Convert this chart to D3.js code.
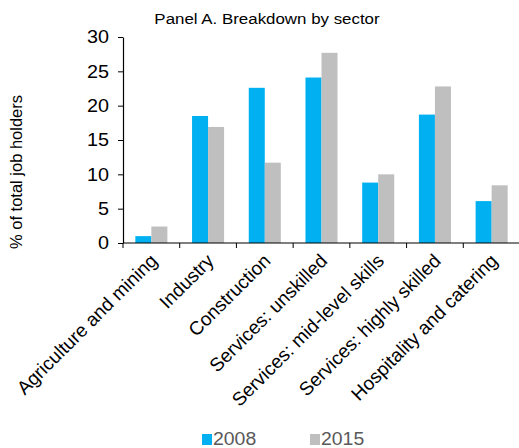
<!DOCTYPE html>
<html>
<head>
<meta charset="utf-8">
<script src="https://cdn.jsdelivr.net/npm/d3@7"></script>
<style>
  body { margin: 0; background: #fff; }
  svg { display: block; font-family: "Liberation Sans", Arial, sans-serif; }
</style>
</head>
<body>
<svg id="chart" width="519" height="448"></svg>
<script>
// Share of job holders by sector, 2008 vs 2015
const categories = [
  "Agriculture and mining",
  "Industry",
  "Construction",
  "Services: unskilled",
  "Services: mid-level skills",
  "Services: highly skilled",
  "Hospitality and catering"
];
const values2008 = [1.0, 18.5, 22.6, 24.1, 8.8, 18.7, 6.1];
const values2015 = [2.4, 16.9, 11.7, 27.7, 10.0, 22.8, 8.4];
const seriesNames = ["2008", "2015"];
const yTicks = [0, 5, 10, 15, 20, 25, 30];

const colors = { "2008": "#00B0F0", "2015": "#BFBFBF" };

const svg = d3.select("#chart");
const plotLeft = 123, plotRight = 520, plotTop = 37, plotBottom = 243;

const x0 = d3.scaleBand().domain(categories).range([plotLeft, plotRight]).paddingInner(0.435).paddingOuter(0.2175);
const x1 = d3.scaleBand().domain(seriesNames).range([0, x0.bandwidth()]);
const y = d3.scaleLinear().domain([0, 30]).range([plotBottom, plotTop]);

const rows = categories.map((c, i) => ({ cat: c, "2008": values2008[i], "2015": values2015[i] }));

// Title (slightly widened glyphs)
svg.append("text")
  .attr("transform", "translate(267,24) scale(1.09,1)")
  .attr("text-anchor", "middle")
  .attr("font-size", 15.5)
  .attr("fill", "#000")
  .text("Panel A. Breakdown by sector");

// Bars
const groups = svg.append("g").selectAll("g").data(rows).join("g")
  .attr("transform", d => `translate(${x0(d.cat)},0)`);
groups.selectAll("rect")
  .data(d => seriesNames.map(s => ({ s, v: d[s] })))
  .join("rect")
  .attr("x", d => x1(d.s))
  .attr("y", d => y(d.v))
  .attr("width", x1.bandwidth())
  .attr("height", d => y(0) - y(d.v))
  .attr("fill", d => colors[d.s]);

// Y axis
const yAxis = svg.append("g")
  .attr("transform", `translate(${plotLeft},0)`)
  .call(d3.axisLeft(y).tickValues(yTicks).tickSize(5).tickSizeOuter(0).tickPadding(9));
yAxis.select(".domain").attr("stroke", "#000").attr("stroke-width", 1.2);
yAxis.selectAll(".tick line").attr("stroke", "#000");
yAxis.selectAll(".tick text").attr("font-size", 18).attr("fill", "#000")
  .attr("font-family", "Liberation Sans, Arial, sans-serif")
  .attr("x", 0)
  .attr("transform", "translate(-14,0) scale(1.1,1)");

// X axis line and category separators
const xAxisG = svg.append("g");
xAxisG.append("line")
  .attr("x1", plotLeft).attr("x2", plotRight)
  .attr("y1", plotBottom).attr("y2", plotBottom)
  .attr("stroke", "#000").attr("stroke-width", 1.2);
const step = x0.step();
const boundaries = d3.range(categories.length + 1).map(i => plotLeft + i * step);
xAxisG.selectAll("line.sep").data(boundaries).join("line")
  .attr("class", "sep")
  .attr("x1", d => d).attr("x2", d => d)
  .attr("y1", plotBottom).attr("y2", plotBottom + 5)
  .attr("stroke", "#000");

// Rotated category labels
xAxisG.selectAll("text.cat").data(categories).join("text")
  .attr("class", "cat")
  .attr("text-anchor", "end")
  .attr("font-size", 19)
  .attr("fill", "#000")
  .attr("transform", d => `translate(${x0(d) + x0.bandwidth() / 2 + 7},${plotBottom + 19}) rotate(-45)`)
  .text(d => d);

// Y axis title
svg.append("text")
  .attr("transform", `translate(22,${(plotTop + plotBottom) / 2 + 32}) rotate(-90)`)
  .attr("text-anchor", "middle")
  .attr("font-size", 16.5)
  .attr("fill", "#000")
  .text("% of total job holders");

// Legend
const legend = svg.append("g");
const legendX = [202, 310];
seriesNames.forEach((s, i) => {
  legend.append("rect")
    .attr("x", legendX[i]).attr("y", 434)
    .attr("width", 10).attr("height", 11)
    .attr("fill", colors[s]);
  legend.append("text")
    .attr("transform", `translate(${legendX[i] + 11},445) scale(1.05,1)`)
    .attr("font-size", 18.5)
    .attr("fill", "#595959")
    .text(s);
});
</script>
</body>
</html>
